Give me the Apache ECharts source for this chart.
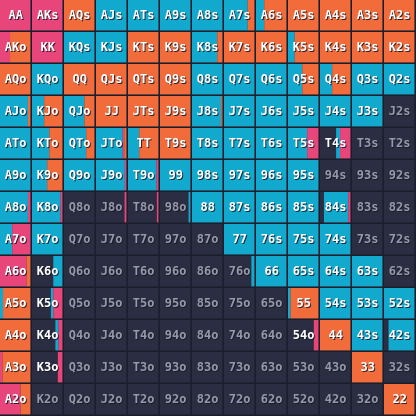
<!DOCTYPE html>
<html>
<head>
<meta charset="utf-8">
<script src="https://cdn.jsdelivr.net/npm/echarts@6/dist/echarts.min.js"></script>
<style>
html,body{margin:0;padding:0;background:#1c1e2c;}
#chart{width:416px;height:416px;}
</style>
</head>
<body>
<div id="chart"></div>
<script>
const ranks = ['A','K','Q','J','T','9','8','7','6','5','4','3','2'];

// percentage of each action per hand (rows = first rank, cols = second rank)
const cyanPct = [
  [0,0,0,100,100,100,100,78,27,0,0,0,0],
  [0,0,100,100,0,0,83,0,0,22,0,0,0],
  [0,100,0,0,0,0,100,100,100,47,40,100,100],
  [92,40,67,0,0,0,96,100,100,100,100,100,0],
  [100,57,73,88,37,0,100,100,100,63,13,0,0],
  [100,50,100,95,94,100,100,100,100,100,0,0,0],
  [92,94,0,0,0,6,100,100,100,100,80,0,0],
  [40,100,0,0,0,0,0,100,100,100,100,0,0],
  [0,30,0,0,0,0,0,10,100,100,100,100,0],
  [10,8,0,0,0,0,0,0,0,8,100,100,100],
  [0,10,0,0,0,0,0,0,0,0,0,100,85],
  [0,0,0,0,0,0,0,0,0,0,0,0,0],
  [0,0,0,0,0,0,0,0,0,0,0,0,0]
];
const pinkPct = [
  [100,100,0,0,0,0,0,0,0,0,0,0,0],
  [33,100,0,0,0,0,0,0,0,0,0,0,0],
  [0,0,0,0,0,0,0,0,0,0,0,0,0],
  [0,0,0,0,0,0,0,0,0,0,0,0,0],
  [0,0,0,5,0,0,0,0,0,37,34,0,0],
  [0,0,0,5,6,0,0,0,0,0,0,0,0],
  [8,6,0,6,5,0,0,0,0,0,7,0,0],
  [60,0,0,0,0,0,0,0,0,0,0,0,0],
  [87,0,0,0,0,0,0,0,0,0,0,0,0],
  [0,30,0,0,0,0,0,0,0,0,0,0,0],
  [0,13,0,0,0,0,0,0,0,15,0,0,0],
  [8,15,0,0,0,0,0,0,0,0,0,0,0],
  [68,0,0,0,0,0,0,0,0,0,0,0,0]
];
const orangePct = [
  [0,0,100,0,0,0,0,22,73,100,100,100,100],
  [67,0,0,0,100,100,17,100,100,78,100,100,100],
  [100,0,100,100,100,100,0,0,0,53,60,0,0],
  [8,60,33,100,100,100,4,0,0,0,0,0,0],
  [0,43,27,7,63,100,0,0,0,0,0,0,0],
  [0,50,0,0,0,0,0,0,0,0,0,0,0],
  [0,0,0,0,0,0,0,0,0,0,0,0,0],
  [0,0,0,0,0,0,0,0,0,0,0,0,0],
  [13,0,0,0,0,0,0,0,0,0,0,0,0],
  [90,0,0,0,0,0,0,0,0,92,0,0,0],
  [100,0,0,0,0,0,0,0,0,0,100,0,0],
  [92,0,0,0,0,0,0,0,0,0,0,100,0],
  [32,0,0,0,0,0,0,0,0,0,0,0,100]
];

const COLORS = {fold:'#2b2d42', cyan:'#12a9cf', pink:'#e8457a', orange:'#f26c3b'};

function handName(r, c){
  if (r === c) return ranks[r] + ranks[c];
  if (c > r) return ranks[r] + ranks[c] + 's';
  return ranks[c] + ranks[r] + 'o';
}

const data = [];
for (let r = 0; r < 13; r++) {
  for (let c = 0; c < 13; c++) {
    const cy = cyanPct[r][c], pk = pinkPct[r][c], or = orangePct[r][c];
    const fold = Math.max(0, 100 - cy - pk - or);
    data.push({value:[c, r, fold, cy, pk, or], name: handName(r, c)});
  }
}

const chart = echarts.init(document.getElementById('chart'), null, {renderer:'canvas'});
chart.setOption({
  backgroundColor:'#1c1e2c',
  animation:false,
  grid:{left:0, right:0, top:0, bottom:0},
  xAxis:{type:'category', data:ranks, show:false},
  yAxis:{type:'category', data:ranks, inverse:true, show:false},
  series:[{
    type:'custom',
    data:data,
    renderItem:function(params, api){
      const c = api.value(0), r = api.value(1);
      const fold = api.value(2), cy = api.value(3), pk = api.value(4), or = api.value(5);
      const center = api.coord([c, r]);
      const size = api.size([1, 1]);
      const x0 = center[0] - size[0]/2;
      const y0 = center[1] - size[1]/2;
      const w = size[0] - 1.6, h = size[1] - 1.6;
      const children = [{
        type:'rect', shape:{x:x0, y:y0, width:w, height:h},
        style:{fill:COLORS.fold}
      }];
      let acc = fold;
      [[cy, COLORS.cyan], [pk, COLORS.pink], [or, COLORS.orange]].forEach(function(seg){
        if (seg[0] > 0) {
          children.push({
            type:'rect',
            shape:{x:x0 + w*acc/100, y:y0, width:w*seg[0]/100, height:h},
            style:{fill:seg[1]}
          });
        }
        acc += seg[0];
      });
      const name = data[params.dataIndex].name;
      const active = fold < 87;
      const tx = x0 + w/2 + 0.5, ty = y0 + h/2 + 0.5;
      const font = 'bold 12px "DejaVu Sans Mono"';
      children.push({
        type:'text',
        style:{text:name, x:tx+1, y:ty+1, align:'center', verticalAlign:'middle',
          font:font, fill: active ? 'rgba(20,20,35,0.85)' : '#1a1b28'}
      });
      children.push({
        type:'text',
        style:{text:name, x:tx, y:ty, align:'center', verticalAlign:'middle',
          font:font, fill: active ? '#ffffff' : '#9799ab'}
      });
      return {type:'group', children:children};
    }
  }]
});
</script>
</body>
</html>
